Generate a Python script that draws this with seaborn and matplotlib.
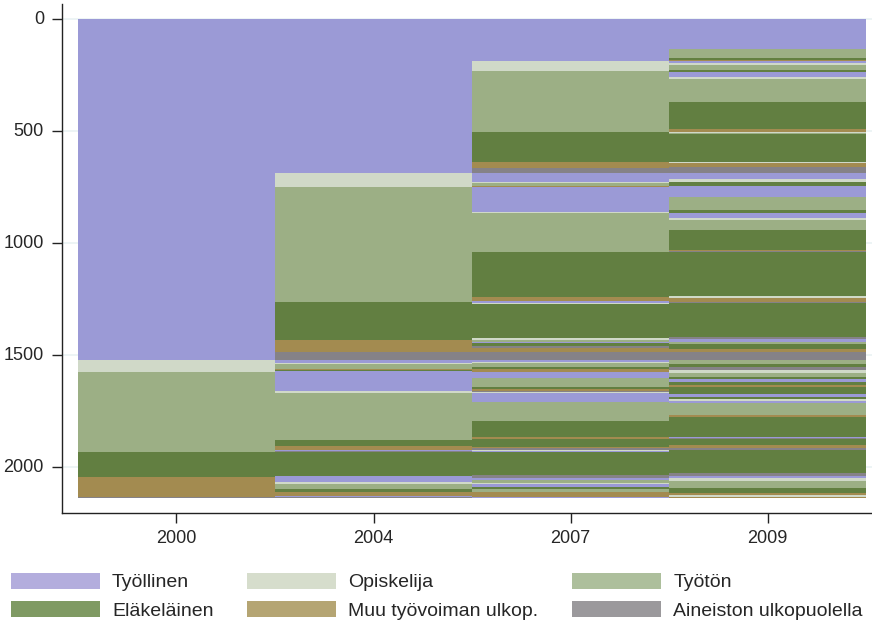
import numpy as np
import pandas as pd
import seaborn as sns
import matplotlib.pyplot as plt
from matplotlib.colors import ListedColormap
from matplotlib.patches import Patch

# states (short keys) and their labels
state_keys = ['T', 'O', 'U', 'E', 'M', 'A']
state_labels = ['Työllinen', 'Opiskelija', 'Työtön', 'Eläkeläinen',
                'Muu työvoiman ulkop.', 'Aineiston ulkopuolella']
bar_colors = ['#9b9ad6', '#d0d9c8', '#9caf85', '#627f41', '#a38b50', '#858287']
legend_colors = ['#b3addd', '#d6ddcc', '#adbf9c', '#7f9a63', '#b5a573', '#9b999c']

years = ['2000', '2004', '2007', '2009']

# sorted sequences: runs of states per year, top to bottom (number of persons)
states_2000 = ['T', 'O', 'U', 'E', 'M', 'A']
counts_2000 = [1522, 52, 359, 112, 90, 5]

states_2004 = ['T', 'O', 'U', 'E', 'M', 'A', 'T', 'O', 'U', 'M', 'E', 'T', 'O',
               'U', 'E', 'M', 'T', 'A', 'E', 'T', 'O', 'U', 'E', 'M', 'T', 'A']
counts_2004 = [687, 63, 515, 167, 53, 37, 12, 6, 24, 5, 4, 88, 10,
               208, 27, 18, 4, 3, 109, 25, 11, 24, 10, 19, 5, 6]

states_2007 = ['T', 'O', 'U', 'E', 'M', 'A', 'T', 'O', 'U', 'M', 'T', 'O', 'U', 'E',
               'M', 'T', 'O', 'E', 'O', 'U', 'T', 'E', 'A', 'M', 'A', 'T', 'O', 'U',
               'E', 'M', 'T', 'U', 'E', 'M', 'A', 'O', 'T', 'U', 'E', 'M', 'E', 'M',
               'A', 'O', 'T', 'E', 'A', 'T', 'U', 'O', 'T', 'E', 'U', 'M', 'A', 'T']
counts_2007 = [187, 45, 271, 135, 29, 19, 40, 7, 12, 6, 109, 7, 171, 202,
               19, 7, 5, 154, 7, 8, 7, 15, 8, 15, 37, 8, 7, 15,
               12, 10, 30, 37, 11, 7, 6, 6, 37, 85, 72, 11, 33, 7,
               8, 4, 3, 105, 11, 11, 12, 8, 10, 11, 11, 22, 4, 4]

states_2009 = ['T', 'U', 'E', 'M', 'T', 'O', 'U', 'E', 'T', 'O', 'U', 'E', 'M', 'O',
               'U', 'E', 'O', 'M', 'A', 'T', 'O', 'E', 'T', 'U', 'E', 'T', 'O', 'U',
               'E', 'M', 'A', 'E', 'O', 'M', 'A', 'E', 'A', 'T', 'U', 'E', 'M', 'A',
               'U', 'E', 'A', 'O', 'U', 'E', 'T', 'E', 'M', 'E', 'T', 'E', 'O', 'T',
               'U', 'M', 'E', 'T', 'A', 'E', 'M', 'A', 'E', 'A', 'T', 'O', 'U', 'E',
               'M', 'O', 'M']
counts_2009 = [135, 40, 7, 4, 12, 7, 23, 7, 22, 12, 100, 123, 11, 5,
               5, 124, 7, 16, 26, 30, 10, 19, 48, 60, 12, 25, 7, 45,
               89, 5, 6, 195, 10, 15, 7, 149, 10, 12, 11, 24, 10, 37,
               19, 11, 15, 12, 21, 9, 10, 13, 9, 33, 15, 8, 7, 11,
               53, 10, 87, 5, 6, 26, 12, 10, 104, 12, 10, 12, 33, 20,
               11, 6, 8]

code = {k: i for i, k in enumerate(state_keys)}


def expand(states, counts):
    return np.repeat([code[s] for s in states], counts)


cols = [expand(states_2000, counts_2000), expand(states_2004, counts_2004),
        expand(states_2007, counts_2007), expand(states_2009, counts_2009)]
n = min(len(c) for c in cols)
seq = pd.DataFrame({y: c[:n] for y, c in zip(years, cols)})

sns.set_style('white')
plt.rcParams['font.family'] = ['Liberation Sans', 'DejaVu Sans']

fig = plt.figure(figsize=(8.72, 6.24), dpi=100)
ax = fig.add_axes([0.0711, 0.178, 0.929, 0.8156])

sns.heatmap(seq.values, cmap=ListedColormap(bar_colors), vmin=-0.5, vmax=5.5,
            cbar=False, ax=ax)

ax.set_xlim(-0.081, 4.03)
ax.set_ylim(2205, -67)
ax.set_yticks([0, 500, 1000, 1500, 2000])
ax.set_yticklabels(['0', '500', '1000', '1500', '2000'], rotation=0, fontsize=13)
ax.set_xticks([0.5, 1.5, 2.5, 3.5])
ax.set_xticklabels(years, rotation=0, fontsize=13)

for s in ['left', 'bottom']:
    ax.spines[s].set_visible(True)
    ax.spines[s].set_color('#222222')
    ax.spines[s].set_linewidth(1.0)
ax.tick_params(axis='both', left=True, bottom=True, length=7, width=1.0,
               direction='out', color='#222222')
ax.tick_params(axis='y', pad=6)
ax.tick_params(axis='x', pad=5)

ax.set_axisbelow(True)
ax.yaxis.grid(True, color='#eaf2f3', linewidth=1.2)
ax.xaxis.grid(False)

# legend: three columns of two rows
col_x = [0.0126, 0.2833, 0.656]
for j in range(3):
    idx = [j, j + 3]
    handles = [Patch(facecolor=legend_colors[i], edgecolor='none') for i in idx]
    fig.legend(handles, [state_labels[i] for i in idx], loc='center left',
               bbox_to_anchor=(col_x[j], 0.0445), frameon=False, fontsize=14,
               handlelength=4.6, handleheight=0.88, handletextpad=0.6,
               labelspacing=0.5, borderpad=0, borderaxespad=0)

fig.savefig('out.png', dpi=100)
